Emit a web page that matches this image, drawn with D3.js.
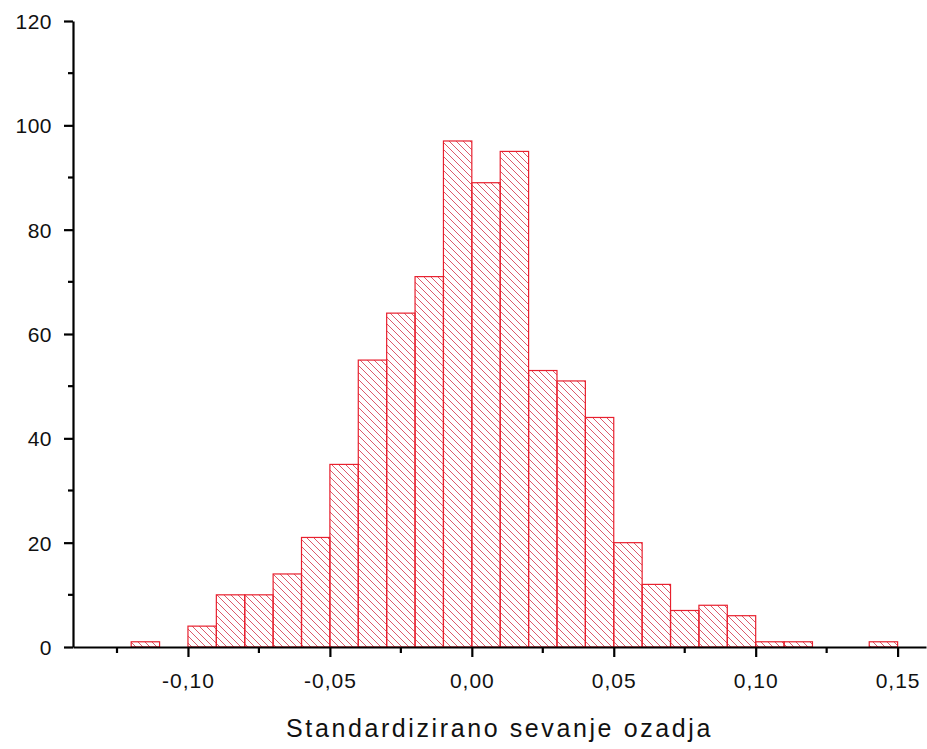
<!DOCTYPE html>
<html><head><meta charset="utf-8">
<script src="https://cdn.jsdelivr.net/npm/d3@7"></script>
<style>body{margin:0;background:#fff}svg{display:block}</style>
</head><body>
<script>
const binStarts = [-0.12,-0.10,-0.09,-0.08,-0.07,-0.06,-0.05,-0.04,-0.03,-0.02,-0.01,0.00,0.01,0.02,0.03,0.04,0.05,0.06,0.07,0.08,0.09,0.10,0.11,0.14];
const counts    = [1,4,10,10,14,21,35,55,64,71,97,89,95,53,51,44,20,12,7,8,6,1,1,1];
const binWidth = 0.01;
const xTicks = [-0.10,-0.05,0.00,0.05,0.10,0.15];
const xMinor = [-0.125,-0.075,-0.025,0.025,0.075,0.125];
const yTicks = [0,20,40,60,80,100,120];
const yMinor = [10,30,50,70,90,110];
const xTitle = "Standardizirano sevanje ozadja";

const W=927,H=749;
const FONT="Liberation Sans, Arial, sans-serif";
const svg=d3.select("body").append("svg").attr("width",W).attr("height",H);
const x=d3.scaleLinear().domain([-0.1405,0.16]).range([73,926]);
const y=d3.scaleLinear().domain([0,120]).range([647,21]);

const defs=svg.append("defs");
const pat=defs.append("pattern").attr("id","hatch").attr("patternUnits","userSpaceOnUse")
  .attr("width",7).attr("height",7);
pat.append("path").attr("d","M0,0L7,7M-2,5L2,9M5,-2L9,2")
  .attr("stroke","#d8485a").attr("stroke-width",0.9).attr("fill","none");

const data=binStarts.map((s,i)=>({s,c:counts[i]}));
svg.append("g").selectAll("rect").data(data).join("rect")
  .attr("x",d=>x(d.s)).attr("width",d=>x(d.s+binWidth)-x(d.s))
  .attr("y",d=>y(d.c)).attr("height",d=>y(0)-y(d.c))
  .attr("fill","url(#hatch)").attr("stroke","#e8202e").attr("stroke-width",1.2);

const fmt=d=>d3.format(".2f")(d).replace("−","-").replace(".",",");
// x axis
const gx=svg.append("g").attr("transform","translate(0,647)");
gx.call(d3.axisBottom(x).tickValues(xTicks).tickSize(10).tickSizeOuter(0).tickFormat(fmt));
gx.select(".domain").attr("stroke","#000").attr("stroke-width",2.2);
gx.selectAll(".tick line").attr("stroke-width",2.2);
gx.selectAll(".tick text").attr("font-family",FONT).attr("font-size",21).attr("fill","#111")
  .attr("letter-spacing","1px").attr("y",41).attr("dy",0);
gx.append("g").selectAll("line").data(xMinor).join("line")
  .attr("x1",d=>x(d)).attr("x2",d=>x(d)).attr("y1",0).attr("y2",6).attr("stroke","#000").attr("stroke-width",2.2);

// y axis
const gy=svg.append("g").attr("transform","translate(73,0)");
gy.call(d3.axisLeft(y).tickValues(yTicks).tickSize(9).tickSizeOuter(0).tickFormat(d3.format("d")));
gy.select(".domain").attr("stroke","#000").attr("stroke-width",2.2);
gy.selectAll(".tick line").attr("stroke-width",2.2);
gy.selectAll(".tick text").attr("font-family",FONT).attr("font-size",21).attr("fill","#111")
  .attr("x",-21).attr("dy","0.36em").attr("letter-spacing","0.5px");
gy.append("g").selectAll("line").data(yMinor).join("line")
  .attr("y1",d=>y(d)).attr("y2",d=>y(d)).attr("x1",0).attr("x2",-5).attr("stroke","#000").attr("stroke-width",2.2);

svg.append("text").attr("x",(73+926)/2).attr("y",737).attr("text-anchor","middle")
  .attr("font-family",FONT).attr("font-size",25).attr("letter-spacing","2.6px").attr("fill","#111")
  .text(xTitle);
</script>
</body></html>
